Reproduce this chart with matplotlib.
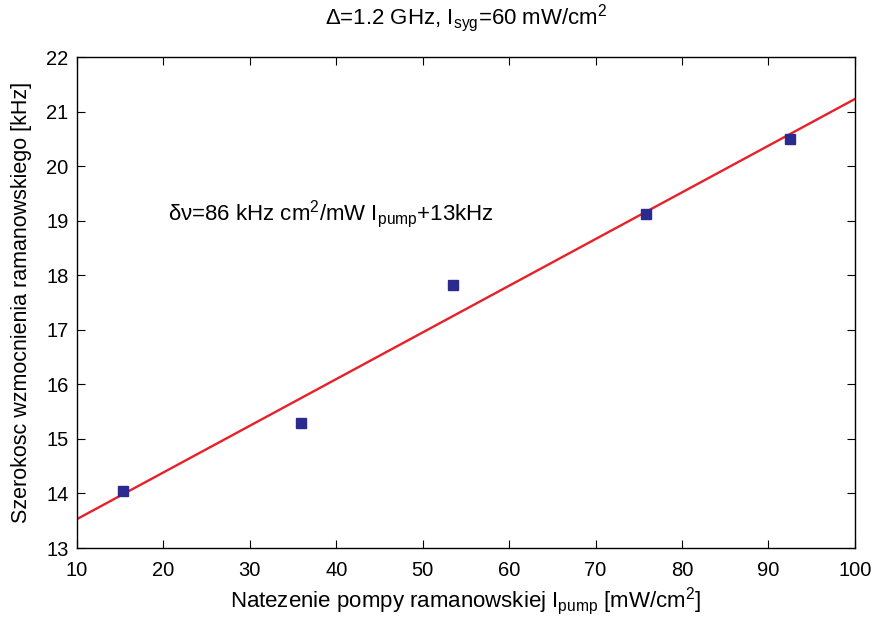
import matplotlib
matplotlib.use("Agg")
import matplotlib.pyplot as plt

plt.rcParams['font.family'] = ['Liberation Sans', 'DejaVu Sans']
plt.rcParams['mathtext.fontset'] = 'custom'
plt.rcParams['mathtext.rm'] = 'Liberation Sans'
plt.rcParams['mathtext.it'] = 'Liberation Sans'

# measured points
pump = [15.3, 35.9, 53.5, 75.8, 92.5]
width = [14.05, 15.29, 17.83, 19.13, 20.50]

# fitted line end points
fit_x = [10, 100]
fit_y = [13.53, 21.23]

xticks = list(range(10, 101, 10))
yticks = list(range(13, 23))

fig = plt.figure(figsize=(8.75, 6.19), dpi=100)
ax = fig.add_axes([0.088, 0.1147, 0.889, 0.7932])

ax.plot(fit_x, fit_y, color='#e8202a', lw=1.7, zorder=2)
ax.plot(pump, width, 's', color='#2b2b8f', markersize=7.5, zorder=3)

ax.set_xlim(10, 100)
ax.set_ylim(13, 22)
ax.set_xticks(xticks)
ax.set_yticks(yticks)
ax.tick_params(direction='in', top=True, right=True, length=6, width=0.8, labelsize=14.5)
ax.tick_params(axis='x', pad=9)
ax.tick_params(axis='y', pad=6)
for s in ax.spines.values():
    s.set_linewidth(1.0)

ax.set_title(r'$\Delta$=1.2 GHz, I$_{\rm syg}$=60 mW/cm$^2$', fontsize=16, pad=24)
ax.set_ylabel('Szerokosc wzmocnienia ramanowskiego [kHz]', fontsize=15.5, labelpad=10)
ax.set_xlabel(r'Natezenie pompy ramanowskiej I$_{\rm pump}$ [mW/cm$^2$]', fontsize=16, labelpad=4)

ax.text(20.5, 19.13, r'$\delta\nu$=86 kHz cm$^2$/mW I$_{\rm pump}$+13kHz', fontsize=16, va='center')

fig.savefig('out.png', dpi=100)
